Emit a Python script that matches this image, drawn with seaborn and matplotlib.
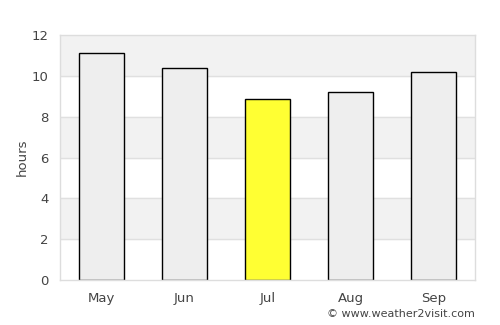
import matplotlib
matplotlib.use("Agg")
import matplotlib.pyplot as plt
import seaborn as sns
import pandas as pd

months = ["May", "Jun", "Jul", "Aug", "Sep"]
hours = [11.1, 10.4, 8.85, 9.2, 10.2]
highlight = "Jul"

df = pd.DataFrame({"month": months, "hours": hours})
colors = {m: ("#ffff33" if m == highlight else "#eeeeee") for m in months}

sns.set_style("white")
plt.rcParams["font.family"] = ["DejaVu Sans"]

fig = plt.figure(figsize=(5, 3.25), dpi=100)
ax = fig.add_axes([0.12, 0.1385, 0.83, 0.7535])

# alternating background bands
for lo in range(2, 12, 4):
    ax.axhspan(lo, lo + 2, color="#f2f2f2", zorder=0)
for y in range(2, 12, 2):
    ax.axhline(y, color="#e0e0e0", linewidth=1, zorder=0.5)

sns.barplot(data=df, x="month", y="hours", hue="month", palette=colors,
            saturation=1, width=0.55, edgecolor="black", linewidth=1,
            legend=False, ax=ax, zorder=2)

ax.set_ylim(0, 12)
ax.set_xlim(-0.5, 4.5)
ax.set_yticks(range(0, 13, 2))
ax.set_xlabel("")
ax.set_ylabel("hours", color="#444444", fontsize=9.5, labelpad=2)
ax.tick_params(axis="both", colors="#444444", labelsize=9.5, length=0, pad=8)
ax.tick_params(axis="x", pad=9)
for s in ax.spines.values():
    s.set_color("#dddddd")
    s.set_linewidth(1)

fig.text(0.95, 0.018, "© www.weather2visit.com", ha="right", va="bottom",
         fontsize=8, color="#444444")

plt.savefig("out.png", dpi=100)
plt.close()
